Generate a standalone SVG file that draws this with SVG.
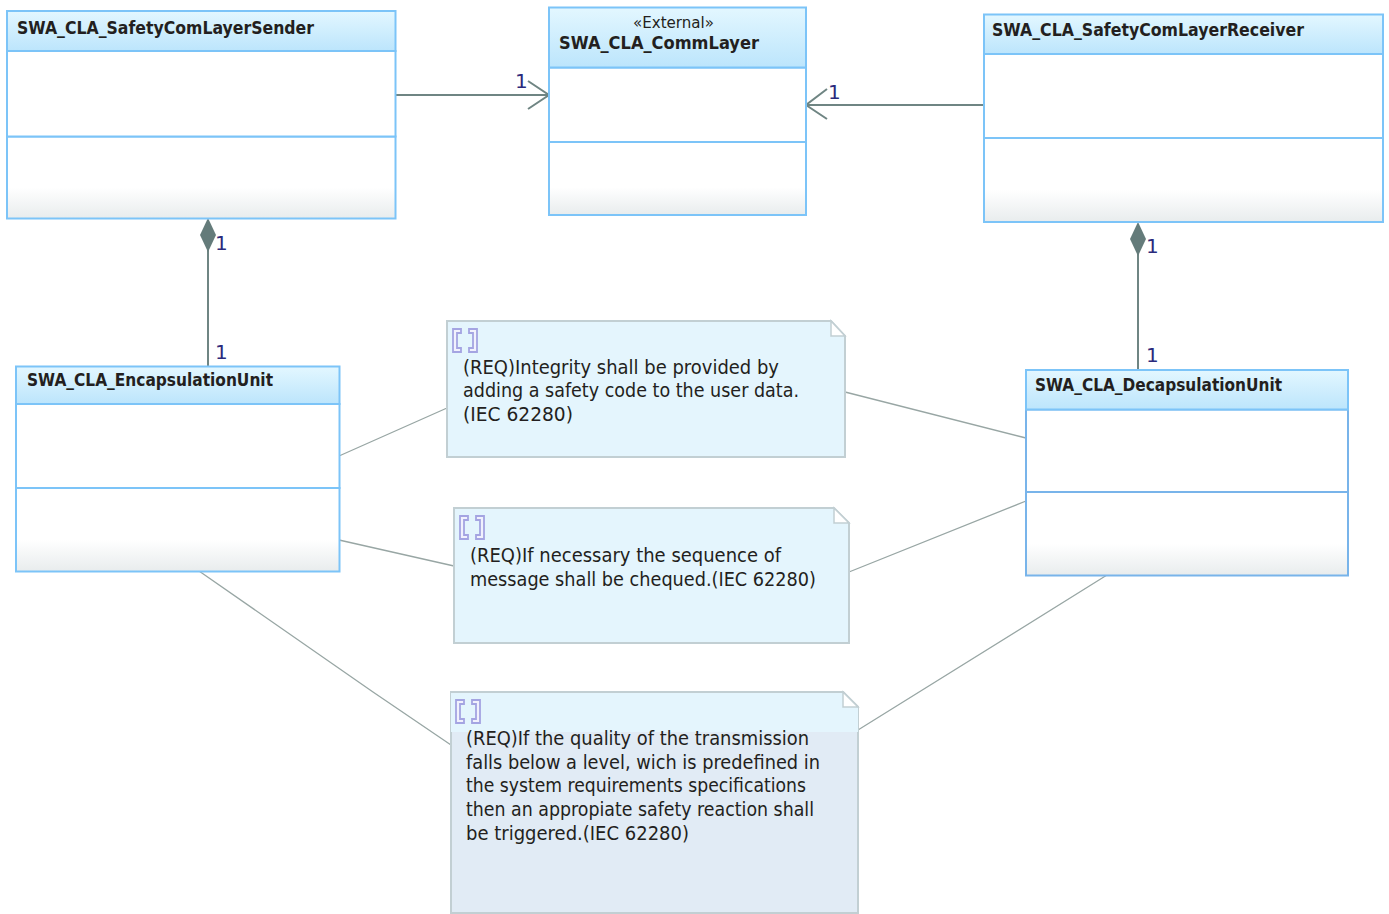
<svg xmlns="http://www.w3.org/2000/svg" width="1389" height="914" viewBox="0 0 1389 914">
<style>
.box{fill:#fff;stroke:#7cc4f8;stroke-width:2}
.hdr{fill:url(#hg);stroke:#7cc4f8;stroke-width:2}
.low{fill:url(#lg);stroke:#7cc4f8;stroke-width:2}
.title{font:bold 18px "DejaVu Sans","Liberation Sans",sans-serif;fill:#231f20}
.ster{font:15px "DejaVu Sans","Liberation Sans",sans-serif;fill:#231f20}
.body{font:20px "DejaVu Sans","Liberation Sans",sans-serif;fill:#231f20}
.mult{font:20px "DejaVu Sans","Liberation Sans",sans-serif;fill:#2b2a7c}
.note{fill:#e4f5fd;stroke:#c2cfd3;stroke-width:2}
.fold{fill:#fff;stroke:#c2cfd3;stroke-width:1.5}
.assoc{stroke:#6f8583;stroke-width:2;fill:none}
.link{stroke:#98a6a4;stroke-width:1.3;fill:none}
.icon{fill:#f1f1fd;stroke:#a4a4e2;stroke-width:1.8}
</style>
<defs>
<linearGradient id="hg" x1="0" y1="0" x2="0" y2="1"><stop offset="0" stop-color="#e3f7ff"/><stop offset="1" stop-color="#bce5fc"/></linearGradient>
<linearGradient id="lg" x1="0" y1="0" x2="0" y2="1"><stop offset="0" stop-color="#fff"/><stop offset=".62" stop-color="#fff"/><stop offset="1" stop-color="#e8eced"/></linearGradient>
<g id="br"><path class="icon" d="M10 1H2V24H10V20H6V5H10Z"/><path class="icon" d="M18 1H26V24H18V20H22V5H18Z"/></g>
</defs>
<g id="connectors">
<path class="assoc" d="M396 95H549M528 81L549 95L528 109"/>
<path class="assoc" d="M984 105H806M827 89L806 105L827 119"/>
<path class="assoc" d="M208 250V366"/>
<path d="M208 218L216 235L208 252L200 235Z" fill="#647b7a"/>
<path class="assoc" d="M1138 254V369"/>
<path d="M1138 222L1146 239L1138 256L1130 239Z" fill="#647b7a"/>
<path class="link" d="M339 456L447 408M845 392L1026 438M339 540L454 566M849 572L1026 501M199 571L373 692L451 745M1107 575L858 730"/>
</g>
<g id="sender">
<rect class="low" x="7" y="136.500" width="388.500" height="82"/><rect class="box" x="7" y="51" width="388.500" height="85.500"/><rect class="hdr" x="7" y="11" width="388.500" height="40"/>
<text class="title" x="17" y="34" textLength="297" lengthAdjust="spacingAndGlyphs">SWA_CLA_SafetyComLayerSender</text>
</g>
<g id="commlayer">
<rect class="low" x="549" y="142" width="257" height="73"/><rect class="box" x="549" y="67.500" width="257" height="74.500"/><rect class="hdr" x="549" y="7.500" width="257" height="60"/>
<text class="ster" x="633" y="28" textLength="81" lengthAdjust="spacingAndGlyphs">«External»</text>
<text class="title" x="559" y="49" textLength="200" lengthAdjust="spacingAndGlyphs">SWA_CLA_CommLayer</text>
</g>
<g id="receiver">
<rect class="low" x="984" y="138" width="399" height="84"/><rect class="box" x="984" y="54" width="399" height="84"/><rect class="hdr" x="984" y="14.500" width="399" height="39.500"/>
<text class="title" x="992" y="36" textLength="312" lengthAdjust="spacingAndGlyphs">SWA_CLA_SafetyComLayerReceiver</text>
</g>
<g id="encapsulation">
<rect class="low" x="16" y="488" width="323.500" height="83.500"/><rect class="box" x="16" y="404" width="323.500" height="84"/><rect class="hdr" x="16" y="366.500" width="323.500" height="37.500"/>
<text class="title" x="27" y="386" textLength="246" lengthAdjust="spacingAndGlyphs">SWA_CLA_EncapsulationUnit</text>
</g>
<g id="decapsulation">
<rect class="low" x="1026" y="492" width="322" height="83.500" style="stroke:#78b4ea"/><rect class="box" x="1026" y="409.500" width="322" height="82.500" style="stroke:#78b4ea"/><rect class="hdr" x="1026" y="370" width="322" height="39.500"/>
<text class="title" x="1035" y="391" textLength="247" lengthAdjust="spacingAndGlyphs">SWA_CLA_DecapsulationUnit</text>
</g>
<g id="note1">
<path class="note" d="M447 321H831L845 336V457H447Z"/><path class="fold" d="M831 321V336H845Z"/>
<use href="#br" x="451" y="328"/>
<text class="body"><tspan x="463" y="373.500" textLength="316" lengthAdjust="spacingAndGlyphs">(REQ)Integrity shall be provided by</tspan><tspan x="463" y="397" textLength="336" lengthAdjust="spacingAndGlyphs">adding a safety code to the user data.</tspan><tspan x="463" y="420.500" textLength="110" lengthAdjust="spacingAndGlyphs">(IEC 62280)</tspan></text>
</g>
<g id="note2">
<path class="note" d="M454 508H834L849 523V643H454Z"/><path class="fold" d="M834 508V523H849Z"/>
<use href="#br" x="458" y="515"/>
<text class="body"><tspan x="470" y="562" textLength="311" lengthAdjust="spacingAndGlyphs">(REQ)If necessary the sequence of</tspan><tspan x="470" y="586" textLength="346" lengthAdjust="spacingAndGlyphs">message shall be chequed.(IEC 62280)</tspan></text>
</g>
<g id="note3">
<path d="M451 692H843L858 707V913H451Z" fill="#e1ebf5" stroke="#c2cfd3" stroke-width="2"/>
<path d="M451 692H843L858 707V732H451Z" fill="#e4f5fd"/>
<path d="M451 692H843L858 707" fill="none" stroke="#c2cfd3" stroke-width="2"/>
<path class="fold" d="M843 692V707H858Z"/>
<use href="#br" x="454" y="699"/>
<text class="body"><tspan x="466" y="745" textLength="343" lengthAdjust="spacingAndGlyphs">(REQ)If the quality of the transmission</tspan><tspan x="466" y="768.500" textLength="354" lengthAdjust="spacingAndGlyphs">falls below a level, wich is predefined in</tspan><tspan x="466" y="792" textLength="340" lengthAdjust="spacingAndGlyphs">the system requirements specifications</tspan><tspan x="466" y="816" textLength="348" lengthAdjust="spacingAndGlyphs">then an appropiate safety reaction shall</tspan><tspan x="466" y="839.500" textLength="223" lengthAdjust="spacingAndGlyphs">be triggered.(IEC 62280)</tspan></text>
</g>
<g id="multiplicities">
<text class="mult" x="515" y="88">1</text>
<text class="mult" x="828" y="99">1</text>
<text class="mult" x="215" y="250">1</text>
<text class="mult" x="215" y="359">1</text>
<text class="mult" x="1146" y="253">1</text>
<text class="mult" x="1146" y="362">1</text>
</g>
</svg>
